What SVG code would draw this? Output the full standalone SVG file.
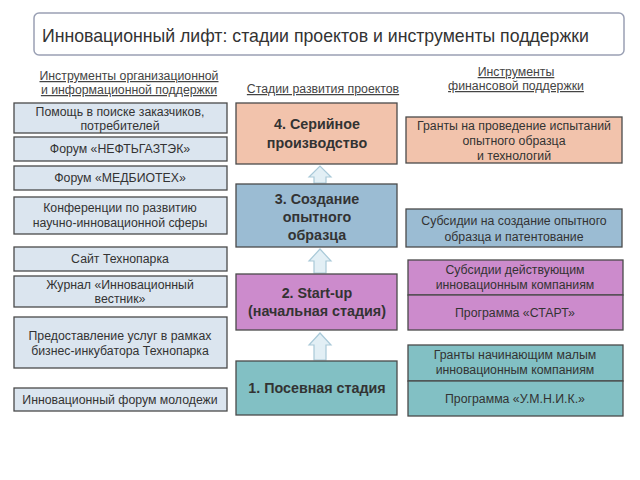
<svg xmlns="http://www.w3.org/2000/svg" width="640" height="480" viewBox="0 0 640 480">
<style>
text{font-family:"Liberation Sans",Arial,sans-serif;fill:#333;text-anchor:middle}
.hd{font-size:12.3px;fill:#444;text-decoration:underline}
.l{font-size:12.3px}
.s{font-size:14.3px;font-weight:bold}
.bx{stroke:#4a4a4a;stroke-width:1.3}
.lb{fill:#dbe5ef}
.or{fill:#f2c3ac}
.bl{fill:#9bbcd3}
.pu{fill:#cc8bcc}
.te{fill:#82c0c4}
.ar{fill:#e2eff5;stroke:#a9c9d8;stroke-width:1.2}
</style>
<rect width="640" height="480" fill="#fff"/>
<g id="title">
<rect x="34" y="13" width="590" height="42" rx="5" fill="#fff" stroke="#9aa0b4" stroke-width="1.5"/>
<text x="42" y="42" style="font-size:17.7px;text-anchor:start">Инновационный лифт: стадии проектов и инструменты поддержки</text>
</g>
<g id="headers">
<text class="hd" x="129" y="80">Инструменты организационной</text>
<text class="hd" x="129" y="94">и информационной поддержки</text>
<text class="hd" x="323" y="93">Стадии развития проектов</text>
<text class="hd" x="516" y="76">Инструменты</text>
<text class="hd" x="516" y="90">финансовой поддержки</text>
</g>
<g id="left1"><rect class="bx lb" x="14" y="103" width="213" height="30"/><text class="l" x="120" y="116">Помощь в поиске заказчиков,</text><text class="l" x="120" y="130">потребителей</text></g>
<g id="left2"><rect class="bx lb" x="14" y="137" width="213" height="24"/><text class="l" x="120" y="153">Форум «НЕФТЬГАЗТЭК»</text></g>
<g id="left3"><rect class="bx lb" x="14" y="166" width="213" height="24"/><text class="l" x="120" y="182">Форум «МЕДБИОТЕХ»</text></g>
<g id="left4"><rect class="bx lb" x="14" y="197" width="213" height="37"/><text class="l" x="120" y="212">Конференции по развитию</text><text class="l" x="120" y="227">научно-инновационной сферы</text></g>
<g id="left5"><rect class="bx lb" x="14" y="247" width="213" height="24"/><text class="l" x="120" y="263">Сайт Технопарка</text></g>
<g id="left6"><rect class="bx lb" x="14" y="276" width="213" height="31"/><text class="l" x="120" y="289">Журнал «Инновационный</text><text class="l" x="120" y="303">вестник»</text></g>
<g id="left7"><rect class="bx lb" x="14" y="317" width="213" height="51"/><text class="l" x="120" y="340">Предоставление услуг в рамках</text><text class="l" x="120" y="355">бизнес-инкубатора Технопарка</text></g>
<g id="left8"><rect class="bx lb" x="14" y="388" width="213" height="23"/><text class="l" x="120" y="404">Инновационный форум молодежи</text></g>
<g id="connectors">
<path class="ar" d="M314,183 V177 H309 L320,166 L331,177 H326 V183 Z"/>
<path class="ar" d="M314,273 V261 H309 L320,249 L331,261 H326 V273 Z"/>
<path class="ar" d="M314,360 V345 H309 L320,333 L331,345 H326 V360 Z"/>
</g>
<g id="stage4"><rect class="bx or" x="236" y="103" width="161" height="61"/><text class="s" x="317" y="129">4. Серийное</text><text class="s" x="317" y="148">производство</text></g>
<g id="stage3"><rect class="bx bl" x="236" y="184" width="161" height="63"/><text class="s" x="317" y="204">3. Создание</text><text class="s" x="317" y="222">опытного</text><text class="s" x="317" y="240">образца</text></g>
<g id="stage2"><rect class="bx pu" x="236" y="274" width="161" height="56"/><text class="s" x="317" y="298">2. Start-up</text><text class="s" x="317" y="316">(начальная стадия)</text></g>
<g id="stage1"><rect class="bx te" x="236" y="361" width="161" height="54"/><text class="s" x="317" y="393">1. Посевная стадия</text></g>
<g id="right1"><rect class="bx or" x="406" y="117" width="216" height="46"/><text class="l" x="514" y="130">Гранты на проведение испытаний</text><text class="l" x="514" y="145">опытного образца</text><text class="l" x="514" y="160">и технологий</text></g>
<g id="right2"><rect class="bx bl" x="406" y="209" width="216" height="38"/><text class="l" x="514" y="225">Субсидии на создание опытного</text><text class="l" x="514" y="241">образца и патентование</text></g>
<g id="right3"><rect class="bx pu" x="408" y="260" width="215" height="35"/><text class="l" x="515" y="274">Субсидии действующим</text><text class="l" x="515" y="289">инновационным компаниям</text></g>
<g id="right4"><rect class="bx pu" x="408" y="295" width="215" height="35"/><text class="l" x="515" y="317">Программа «СТАРТ»</text></g>
<g id="right5"><rect class="bx te" x="408" y="345" width="215" height="36"/><text class="l" x="515" y="359">Гранты начинающим малым</text><text class="l" x="515" y="374">инновационным компаниям</text></g>
<g id="right6"><rect class="bx te" x="408" y="381" width="215" height="35"/><text class="l" x="515" y="403">Программа «У.М.Н.И.К.»</text></g>
</svg>
